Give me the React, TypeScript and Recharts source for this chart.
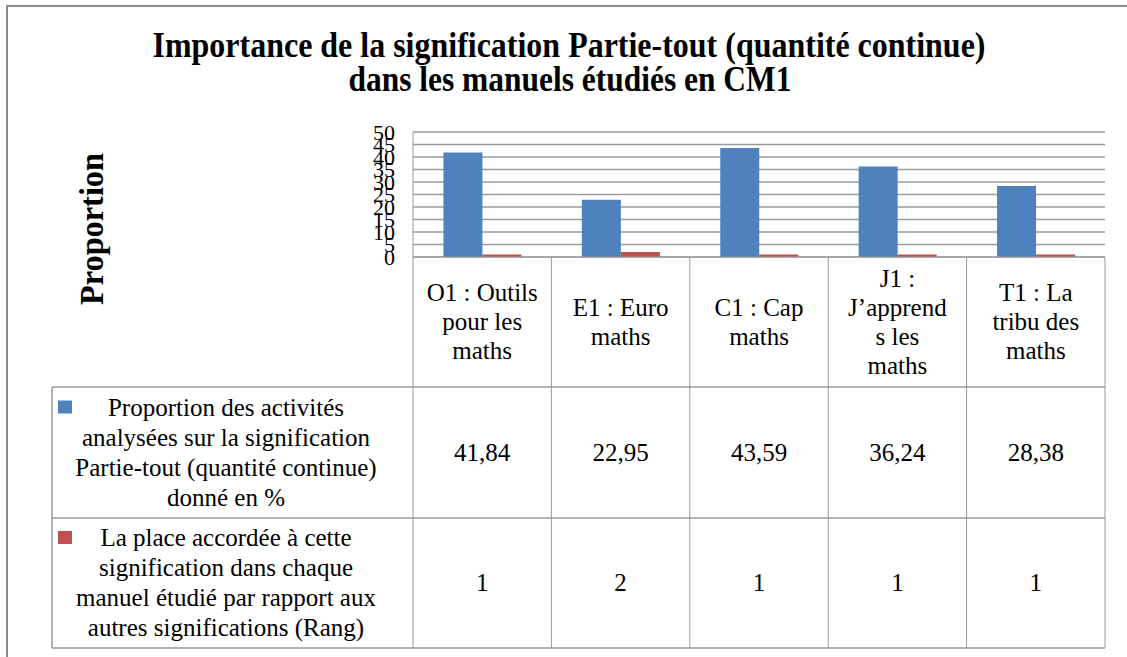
import React from 'react';
import { BarChart, Bar, XAxis, YAxis, CartesianGrid } from 'recharts';

// manuels étudiés (catégories)
const categories = [
  'O1 : Outils pour les maths',
  'E1 : Euro maths',
  'C1 : Cap maths',
  'J1 : J’apprends les maths',
  'T1 : La tribu des maths',
];

// libellés tels qu'ils sont coupés dans le tableau
const categoryLines = [
  ['O1 : Outils', 'pour les', 'maths'],
  ['E1 : Euro', 'maths'],
  ['C1 : Cap', 'maths'],
  ['J1 :', 'J’apprend', 's les', 'maths'],
  ['T1 : La', 'tribu des', 'maths'],
];

const proportion = [41.84, 22.95, 43.59, 36.24, 28.38];
const rang = [1, 2, 1, 1, 1];
const yTicks = [0, 5, 10, 15, 20, 25, 30, 35, 40, 45, 50];

const seriesNames = [
  ['Proportion des activités', 'analysées sur la signification', 'Partie-tout (quantité continue)', 'donné en %'],
  ['La place accordée à cette', 'signification dans chaque', 'manuel étudié par rapport aux', 'autres significations (Rang)'],
];

const data = categories.map((c, i) => ({ name: c, proportion: proportion[i], rang: rang[i] }));

const W = 1127;
const H = 657;
const FONT = '"Liberation Serif", "Times New Roman", Times, serif';
const BLUE = '#4F81BD';
const RED = '#C0504D';
const LINE = '#9a9a9a';

const PLOT_LEFT = 413;
const PLOT_RIGHT = 1105;
const AXIS_Y = 257;
const HEAD_BOTTOM = 387;
const ROW1_BOTTOM = 518;
const TABLE_BOTTOM = 648;
const TABLE_LEFT = 52;
const COL_W = (PLOT_RIGHT - PLOT_LEFT) / categories.length;
const LINE_H = 29;
const FS = 25;

const txt = { fontFamily: FONT, fontSize: FS, fill: '#000' };

const fmt = (v: number) => v.toFixed(2).replace('.', ',');

const TableColumn = (props: any) => {
  const { x, payload } = props;
  const i = categories.indexOf(payload.value);
  const half = COL_W / 2;
  const lines = categoryLines[i];
  const headMid = (AXIS_Y + HEAD_BOTTOM) / 2;
  const top = headMid - ((lines.length - 1) * LINE_H) / 2;
  return (
    <g>
      {i === 0 && <line x1={x - half} y1={AXIS_Y} x2={x - half} y2={TABLE_BOTTOM} stroke={LINE} />}
      <line x1={x + half} y1={AXIS_Y} x2={x + half} y2={TABLE_BOTTOM} stroke={LINE} />
      <text textAnchor="middle" style={txt}>
        {lines.map((l, k) => (
          <tspan key={k} x={x} y={top + k * LINE_H + 8}>{l}</tspan>
        ))}
      </text>
      <text x={x} y={(HEAD_BOTTOM + ROW1_BOTTOM) / 2 + 8} textAnchor="middle" style={txt}>{fmt(proportion[i])}</text>
      <text x={x} y={(ROW1_BOTTOM + TABLE_BOTTOM) / 2 + 8} textAnchor="middle" style={txt}>{rang[i]}</text>
    </g>
  );
};

const LegendCell = ({ lines, color, top, bottom }: { lines: string[]; color: string; top: number; bottom: number }) => {
  const mid = (top + bottom) / 2;
  const first = mid - ((lines.length - 1) * 30) / 2;
  return (
    <g>
      <rect x={58} y={first - 7} width={14} height={13} fill={color} />
      <text textAnchor="middle" style={txt}>
        {lines.map((l, k) => (
          <tspan key={k} x={226} y={first + k * 30 + 8}>{l}</tspan>
        ))}
      </text>
    </g>
  );
};

export default function App() {
  return (
    <div style={{ position: 'absolute', left: 0, top: 0, width: W, height: H, background: '#fff', overflow: 'hidden', fontFamily: FONT }}>
      <div style={{ position: 'absolute', left: 6, top: 5, width: W, height: H, borderLeft: '2px solid #8a8a8a', borderTop: '2px solid #8a8a8a' }} />
      <BarChart
        width={W}
        height={H}
        data={data}
        margin={{ top: 132, right: W - PLOT_RIGHT, bottom: 9, left: 0 }}
        barCategoryGap="22%"
        barGap={0}
        style={{ position: 'absolute', left: 0, top: 0 }}
      >
        <CartesianGrid vertical={false} stroke={LINE} strokeWidth={1.5} />
        <XAxis
          dataKey="name"
          height={TABLE_BOTTOM - AXIS_Y}
          interval={0}
          tickLine={false}
          axisLine={{ stroke: LINE }}
          tick={<TableColumn />}
        />
        <YAxis
          width={PLOT_LEFT}
          domain={[0, 50]}
          ticks={yTicks}
          interval={0}
          tickLine={false}
          tickSize={6}
          tickMargin={12}
          axisLine={{ stroke: LINE }}
          tick={{ fontSize: 22, fill: '#000', style: { fontFamily: FONT } }}
        />
        <Bar dataKey="proportion" fill={BLUE} isAnimationActive={false} />
        <Bar dataKey="rang" fill={RED} isAnimationActive={false} />
      </BarChart>
      <svg width={W} height={H} style={{ position: 'absolute', left: 0, top: 0, pointerEvents: 'none' }}>
        <g style={{ fontFamily: FONT, fontWeight: 'bold' }} fill="#000">
          <text x={569} y={57} fontSize={35} textAnchor="middle" textLength={833} lengthAdjust="spacingAndGlyphs">
            Importance de la  signification Partie-tout (quantité continue)
          </text>
          <text x={570} y={91} fontSize={35} textAnchor="middle" textLength={443} lengthAdjust="spacingAndGlyphs">
            dans les manuels étudiés en CM1
          </text>
          <text
            x={0}
            y={0}
            fontSize={33}
            textAnchor="middle"
            textLength={152}
            lengthAdjust="spacingAndGlyphs"
            transform="translate(103 229) rotate(-90)"
          >
            Proportion
          </text>
        </g>
        <line x1={TABLE_LEFT} y1={HEAD_BOTTOM} x2={PLOT_RIGHT} y2={HEAD_BOTTOM} stroke={LINE} strokeWidth={1.5} />
        <line x1={TABLE_LEFT} y1={ROW1_BOTTOM} x2={PLOT_RIGHT} y2={ROW1_BOTTOM} stroke={LINE} strokeWidth={1.5} />
        <line x1={TABLE_LEFT} y1={TABLE_BOTTOM} x2={PLOT_RIGHT} y2={TABLE_BOTTOM} stroke={LINE} strokeWidth={1.5} />
        <line x1={TABLE_LEFT} y1={HEAD_BOTTOM} x2={TABLE_LEFT} y2={TABLE_BOTTOM} stroke={LINE} strokeWidth={1.5} />
        <LegendCell lines={seriesNames[0]} color={BLUE} top={HEAD_BOTTOM} bottom={ROW1_BOTTOM} />
        <LegendCell lines={seriesNames[1]} color={RED} top={ROW1_BOTTOM} bottom={TABLE_BOTTOM} />
      </svg>
    </div>
  );
}
